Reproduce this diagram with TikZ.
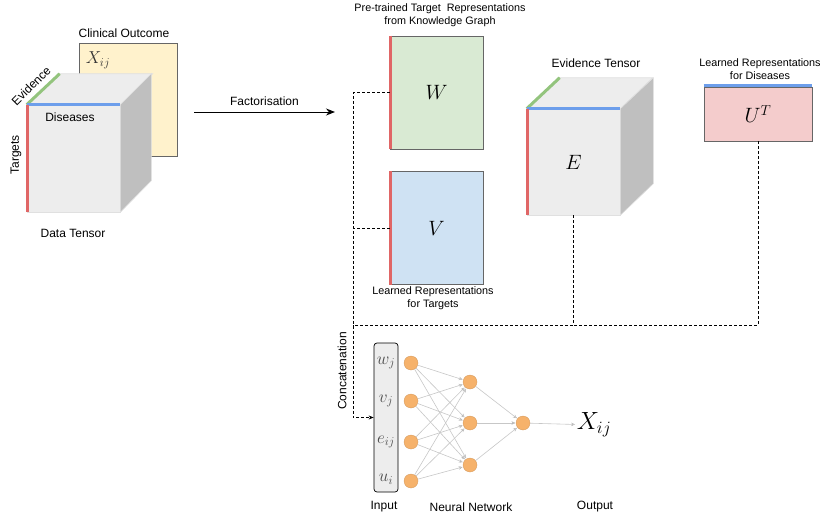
\documentclass[tikz,border=0pt]{standalone}
\usepackage{amsmath}
\usepackage[no-math]{fontspec}
\setmainfont{Liberation Sans}
\usepackage{tikz}
\usetikzlibrary{positioning, arrows.meta}
\definecolor{tgtred}{HTML}{E06666}
\definecolor{evgreen}{HTML}{93C47D}
\definecolor{disblue}{HTML}{6D9EEB}
\definecolor{outyellow}{HTML}{FFF2CC}
\definecolor{wgreen}{HTML}{D9EAD3}
\definecolor{vblue}{HTML}{CFE2F3}
\definecolor{upink}{HTML}{F4CCCC}
\definecolor{neuron}{HTML}{F6B26B}
\tikzset{x=1pt, y=-1pt, % pixel like coordinates, y grows downwards
>=Stealth, % arrow heads
lbl/.style={font=\fontsize{12}{14}\selectfont, inner sep=1pt}, % plain labels
smalllbl/.style={font=\fontsize{10.8}{12.5}\selectfont, align=center, inner sep=1pt}, % two line labels
matrixbox/.style={draw=black!60, line width=0.8pt, minimum width=93pt, minimum height=113pt, inner sep=0pt, font=\fontsize{20}{22}\selectfont}, % factor matrices
face/.style={draw=black!12, fill=black!7, line width=0.6pt, minimum width=93pt, minimum height=107pt, inner sep=0pt, font=\fontsize{20}{22}\selectfont}, % front of a tensor
cubetop/.style={fill=black!7, draw=black!12, line width=0.6pt}, % top of a tensor
cubeside/.style={fill=black!25, draw=black!12, line width=0.6pt}, % side of a tensor
axis/.style={line width=3pt}, % coloured tensor axes
link/.style={dashed, dash pattern=on 3pt off 2pt, line width=0.9pt}, % dashed connections
unit/.style={circle, fill=neuron, draw=neuron!85!black, line width=0.3pt, minimum size=14pt, inner sep=0pt}, % neurons
wire/.style={->, >={Stealth[length=4pt,width=3.5pt]}, draw=black!22, line width=0.6pt, shorten >=0.5pt}, % network edges
}

\begin{document}
\begin{tikzpicture}
\useasboundingbox (0,0) rectangle (824,519);

% data tensor with clinical outcome behind it
\node[draw=black!60, fill=outyellow, line width=0.8pt, minimum width=98pt, minimum height=113pt] (yel) at (128,99.5) {};
\node[lbl] (yeltxt) at (124,33) {Clinical Outcome};
\node[font=\fontsize{17}{18}\selectfont, text=black!80] (xij) at (98,60) {$X_{ij}$};

\node[face] (dt) at (73.5,158.5) {};
\fill[cubetop] (dt.north west) -- ++(33,-31) -- ++(93,0) -- (dt.north east) -- cycle;
\fill[cubeside] (dt.north east) -- ++(31,-31) -- ++(0,107) -- (dt.south east) -- cycle;
\draw[axis, evgreen] (dt.north west) -- ++(33,-31);
\draw[axis, disblue] (dt.north west) -- (dt.north east);
\draw[axis, tgtred] ([xshift=1pt]dt.north west) -- ([xshift=1pt]dt.south west);
\node[lbl] (dis) at (70,117) {Diseases};
\node[lbl, rotate=45, inner sep=0pt] (evi) at (31,86) {Evidence};
\node[lbl, rotate=90] (tgt) at (16,155) {Targets};
\node[lbl] (dtlbl) at (73,233) {Data Tensor};

% factorisation
\coordinate (fs) at (194,112);
\coordinate (fe) at (335,112);
\draw[->, line width=1pt, >={Stealth[length=9pt,width=7pt]}] (fs) -- node[lbl, above=5pt] {Factorisation} (fe);

% factors
\node[matrixbox, fill=wgreen] (W) at (436.5,92.5) {$W$};
\node[matrixbox, fill=vblue] (V) at (436.5,228) {$V$};
\draw[axis, tgtred] ([xshift=1pt]W.north west) -- ([xshift=1pt]W.south west);
\draw[axis, tgtred] ([xshift=1pt]V.north west) -- ([xshift=1pt]V.south west);
\node[smalllbl] (wlbl) at (440,15) {Pre-trained Target\ \ Representations\\from Knowledge Graph};
\node[smalllbl] (vlbl) at (433,298) {Learned Representations\\for Targets};

\node[face, minimum height=106pt] (E) at (573.5,162) {$E$};
\fill[cubetop] (E.north west) -- ++(33,-31) -- ++(93,0) -- (E.north east) -- cycle;
\fill[cubeside] (E.north east) -- ++(33,-31) -- ++(0,106) -- (E.south east) -- cycle;
\draw[axis, evgreen] (E.north west) -- ++(33,-31);
\draw[axis, disblue] (E.north west) -- (E.north east);
\draw[axis, tgtred] ([xshift=1pt]E.north west) -- ([xshift=1pt]E.south west);
\node[lbl] (elbl) at (596,63) {Evidence Tensor};

\node[matrixbox, fill=upink, minimum width=108pt, minimum height=54pt] (U) at (758,114) {$U^T$};
\draw[axis, disblue] ([yshift=1pt]U.north west) -- ([yshift=1pt]U.north east);
\node[smalllbl] (ulbl) at (760,69) {Learned Representations\\for Diseases};

% neural network
\node[draw, fill=black!7, rounded corners=3pt, line width=0.7pt, minimum width=24pt, minimum height=149pt, inner sep=0pt] (inbox) at (386,417.5) {};
\node[font=\fontsize{17}{18}\selectfont, text=black!70] (wj) at (386,363) {$w_j$};
\node[font=\fontsize{17}{18}\selectfont, text=black!70] (vj) at (386,401) {$v_j$};
\node[font=\fontsize{17}{18}\selectfont, text=black!70] (eij) at (386,442) {$e_{ij}$};
\node[font=\fontsize{17}{18}\selectfont, text=black!70] (ui) at (386,479) {$u_i$};

\node[unit] (i1) at (411,363) {};
\node[unit] (i2) at (411,401) {};
\node[unit] (i3) at (411,442) {};
\node[unit] (i4) at (411,481) {};
\node[unit] (h1) at (470,382) {};
\node[unit] (h2) at (470,423) {};
\node[unit] (h3) at (470,465) {};
\node[unit] (o1) at (523,423) {};
\node[font=\fontsize{25}{27}\selectfont, inner sep=1pt] (xout) at (594,425) {$X_{ij}$};

\draw[wire]
(i1) edge (h1) (i1) edge (h2) (i1) edge (h3)
(i2) edge (h1) (i2) edge (h2) (i2) edge (h3)
(i3) edge (h1) (i3) edge (h2) (i3) edge (h3)
(i4) edge (h1) (i4) edge (h2) (i4) edge (h3)
(h1) edge (o1) (h2) edge (o1) (h3) edge (o1)
(o1) edge (xout);

\node[lbl] (inlbl) at (384,507) {Input};
\node[lbl] (nnlbl) at (471,507) {Neural Network};
\node[lbl] (outlbl) at (595,507) {Output};

% concatenation links
\coordinate (bus) at (353,325);
\draw[link, ->, >={Stealth[length=5pt,width=4pt]}] (W.west) -| (bus |- inbox.west) -- (inbox.west);
\draw[link] (V.west) -- (V.west -| bus);
\draw[link] (E.south) |- (bus);
\draw[link] (U.south) |- (E.south |- bus);
\node[lbl, rotate=90] (concat) at (342,371) {Concatenation};

\end{tikzpicture}
\end{document}
